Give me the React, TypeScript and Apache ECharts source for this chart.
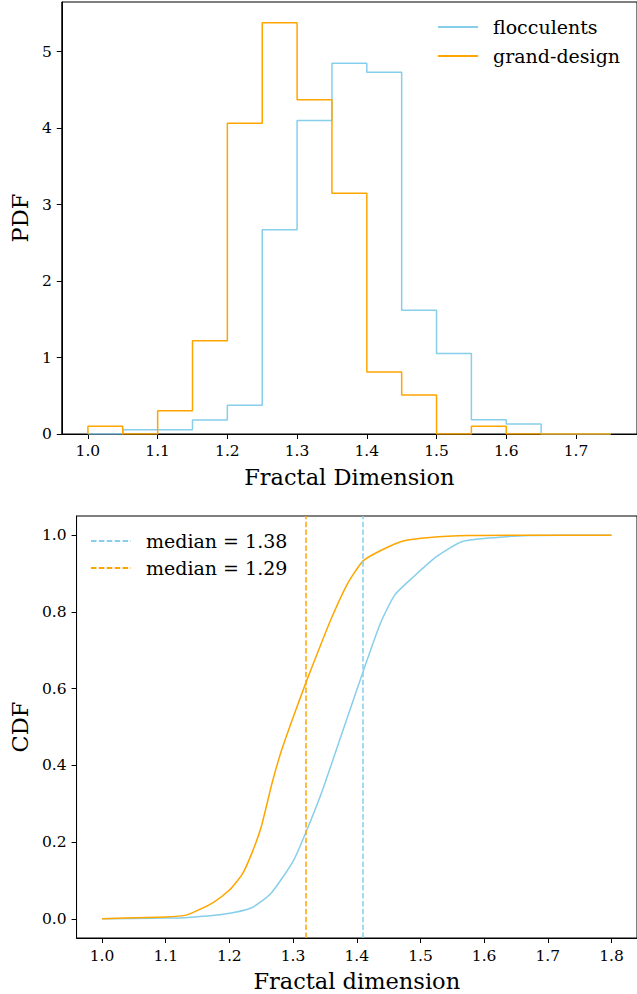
import React, { useEffect, useRef } from "react";
import * as echarts from "echarts";

// ---- Data ----
const binEdges = [1.0, 1.05, 1.1, 1.15, 1.2, 1.25, 1.3, 1.35, 1.4, 1.45, 1.5, 1.55, 1.6, 1.65, 1.7, 1.75];
const flocculentPdf = [0, 0.057, 0.057, 0.183, 0.375, 2.67, 4.1, 4.85, 4.73, 1.617, 1.054, 0.187, 0.13, 0, 0];
const grandDesignPdf = [0.1, 0, 0.305, 1.22, 4.065, 5.38, 4.37, 3.15, 0.81, 0.51, 0, 0.1, 0, 0, 0];

const pdfXTicks = [1.0, 1.1, 1.2, 1.3, 1.4, 1.5, 1.6, 1.7];
const pdfYTicks = [0, 1, 2, 3, 4, 5];
const cdfXTicks = [1.0, 1.1, 1.2, 1.3, 1.4, 1.5, 1.6, 1.7, 1.8];
const cdfYTicks = [0, 0.2, 0.4, 0.6, 0.8, 1.0];

const flocculentCdfX = [1.0, 1.1, 1.13, 1.19, 1.235, 1.265, 1.3, 1.32, 1.345, 1.375, 1.41, 1.437, 1.46, 1.49, 1.525, 1.565, 1.62, 1.67, 1.72, 1.8];
const flocculentCdfY = [0.0, 0.002, 0.003, 0.012, 0.029, 0.066, 0.15, 0.225, 0.33, 0.475, 0.645, 0.77, 0.845, 0.893, 0.944, 0.983, 0.994, 0.999, 1.0, 1.0];

const grandDesignCdfX = [1.0, 1.05, 1.1, 1.13, 1.15, 1.175, 1.2, 1.22, 1.235, 1.25, 1.267, 1.282, 1.3, 1.32, 1.34, 1.36, 1.385, 1.41, 1.44, 1.473, 1.515, 1.577, 1.65, 1.8];
const grandDesignCdfY = [0.0, 0.003, 0.005, 0.009, 0.022, 0.043, 0.075, 0.116, 0.17, 0.24, 0.354, 0.44, 0.525, 0.615, 0.7, 0.783, 0.872, 0.933, 0.962, 0.985, 0.994, 0.999, 1.0, 1.0];

const medianPositions = [1.41, 1.32];
const medianLabels = ["median = 1.38", "median = 1.29"];
const seriesNames = ["flocculents", "grand-design"];

const BLUE = "#87CEEB";
const ORANGE = "#FFA500";
const FONT = "DejaVu Serif";

function stepData(edges: number[], vals: number[]) {
  const pts: number[][] = [[edges[0], 0]];
  vals.forEach((v, i) => pts.push([edges[i], v]));
  pts.push([edges[edges.length - 1], vals[vals.length - 1]]);
  pts.push([edges[edges.length - 1], 0]);
  return pts;
}

function zip(xs: number[], ys: number[]) {
  return xs.map((x, i) => [x, ys[i]]);
}

const tickLabel = (ticks: number[], digits: number, margin: number) => ({
  customValues: ticks,
  formatter: (v: number) => v.toFixed(digits),
  fontFamily: FONT,
  fontSize: 15.5,
  color: "#000",
  margin,
});

const axisCommon = {
  type: "value" as const,
  splitLine: { show: false },
  axisLine: { show: true, onZero: false, lineStyle: { color: "#000", width: 1 } },
};

export default function App() {
  const ref = useRef<HTMLDivElement>(null);

  useEffect(() => {
    if (!ref.current) return;
    const chart = echarts.init(ref.current, null, { renderer: "svg" });
    const nameStyle = { fontFamily: FONT, fontSize: 22.5, color: "#000" };
    const legendText = { fontFamily: FONT, fontSize: 19, color: "#000", padding: [0, 0, 0, 10], lineHeight: 20 };

    chart.setOption({
      animation: false,
      backgroundColor: "#fff",
      grid: [
        { left: 59, right: -2, top: 2, bottom: 560, show: true, borderColor: "#000", borderWidth: 1 },
        { left: 72, right: -3, top: 516, bottom: 56, show: true, borderColor: "#000", borderWidth: 1 },
      ],
      xAxis: [
        {
          ...axisCommon,
          gridIndex: 0,
          min: 0.9625,
          max: 1.7875,
          axisTick: { show: true, length: 5, customValues: pdfXTicks, lineStyle: { color: "#000" } },
          axisLabel: tickLabel(pdfXTicks, 1, 9),
          name: "Fractal Dimension",
          nameLocation: "middle",
          nameGap: 31,
          nameTextStyle: nameStyle,
        },
        {
          ...axisCommon,
          gridIndex: 1,
          min: 0.96,
          max: 1.84,
          axisTick: { show: true, length: 5, customValues: cdfXTicks, lineStyle: { color: "#000" } },
          axisLabel: tickLabel(cdfXTicks, 1, 10),
          name: "Fractal dimension",
          nameLocation: "middle",
          nameGap: 31,
          nameTextStyle: nameStyle,
        },
      ],
      yAxis: [
        {
          ...axisCommon,
          gridIndex: 0,
          min: 0,
          max: 5.65,
          axisTick: { show: true, length: 5, customValues: pdfYTicks, lineStyle: { color: "#000" } },
          axisLabel: tickLabel(pdfYTicks, 0, 10),
          name: "PDF",
          nameLocation: "middle",
          nameGap: 30,
          nameTextStyle: nameStyle,
        },
        {
          ...axisCommon,
          gridIndex: 1,
          min: -0.05,
          max: 1.05,
          axisTick: { show: true, length: 5, customValues: cdfYTicks, lineStyle: { color: "#000" } },
          axisLabel: tickLabel(cdfYTicks, 1, 10),
          name: "CDF",
          nameLocation: "middle",
          nameGap: 43,
          nameTextStyle: nameStyle,
        },
      ],
      legend: [
        {
          data: seriesNames,
          orient: "vertical",
          left: 437,
          top: 17,
          padding: 0,
          itemWidth: 40,
          itemHeight: 14,
          itemGap: 9,
          itemStyle: { opacity: 0 },
          textStyle: legendText,
        },
        {
          data: medianLabels,
          orient: "vertical",
          left: 90,
          top: 531,
          padding: 0,
          itemWidth: 40,
          itemHeight: 14,
          itemGap: 7,
          itemStyle: { opacity: 0 },
          textStyle: legendText,
        },
      ],
      series: [
        {
          name: seriesNames[0],
          type: "line",
          xAxisIndex: 0,
          yAxisIndex: 0,
          step: "end",
          symbol: "none",
          data: stepData(binEdges, flocculentPdf),
          lineStyle: { color: BLUE, width: 1.5 },
          itemStyle: { color: BLUE },
        },
        {
          name: seriesNames[1],
          type: "line",
          xAxisIndex: 0,
          yAxisIndex: 0,
          step: "end",
          symbol: "none",
          data: stepData(binEdges, grandDesignPdf),
          lineStyle: { color: ORANGE, width: 1.5 },
          itemStyle: { color: ORANGE },
        },
        {
          name: "flocculents CDF",
          type: "line",
          xAxisIndex: 1,
          yAxisIndex: 1,
          symbol: "none",
          smooth: 0.2,
          data: zip(flocculentCdfX, flocculentCdfY),
          lineStyle: { color: BLUE, width: 1.5 },
          itemStyle: { color: BLUE },
        },
        {
          name: "grand-design CDF",
          type: "line",
          xAxisIndex: 1,
          yAxisIndex: 1,
          symbol: "none",
          smooth: 0.2,
          data: zip(grandDesignCdfX, grandDesignCdfY),
          lineStyle: { color: ORANGE, width: 1.5 },
          itemStyle: { color: ORANGE },
        },
        ...medianPositions.map((pos, i) => ({
          name: medianLabels[i],
          type: "line",
          xAxisIndex: 1,
          yAxisIndex: 1,
          symbol: "none",
          data: [],
          lineStyle: { color: i === 0 ? BLUE : ORANGE, width: 1.5, type: [5.5, 2.4] },
          itemStyle: { color: i === 0 ? BLUE : ORANGE },
          markLine: {
            silent: true,
            symbol: ["none", "none"],
            label: { show: false },
            lineStyle: { color: i === 0 ? BLUE : ORANGE, width: 1.5, type: [5.5, 2.4] },
            data: [{ xAxis: pos }],
          },
        })),
      ],
    });

    return () => chart.dispose();
  }, []);

  return (
    <div
      ref={ref}
      style={{ position: "fixed", left: 0, top: 0, width: 637, height: 994, background: "#fff" }}
    />
  );
}
